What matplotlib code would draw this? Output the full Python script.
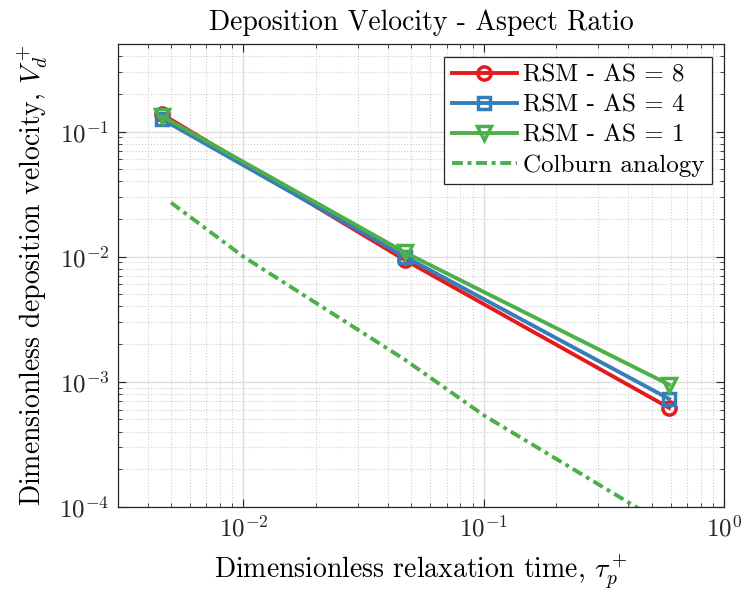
import matplotlib
matplotlib.use("Agg")
import matplotlib.pyplot as plt

# relaxation time tau_p+ for the three RSM runs
tau_p = [0.0046, 0.047, 0.59]
vd_as8 = [0.137, 0.0094, 0.00062]
vd_as4 = [0.125, 0.0100, 0.00073]
vd_as1 = [0.132, 0.0108, 0.00095]

# Colburn analogy curve
tau_colburn = [0.005, 0.01, 0.047, 0.1, 0.6]
vd_colburn = [0.027, 0.0100, 0.00150, 0.00054, 0.000068]

labels = ["RSM - AS = 8", "RSM - AS = 4", "RSM - AS = 1", "Colburn analogy"]
colors = ["#e41a1c", "#377eb8", "#4daf4a"]

plt.rcParams["font.family"] = "cmr10"
plt.rcParams["mathtext.fontset"] = "cm"
plt.rcParams["axes.formatter.use_mathtext"] = True

fig = plt.figure(figsize=(7.45, 5.95), dpi=100)
ax = fig.add_axes([0.158, 0.148, 0.814, 0.778])

ax.plot(tau_p, vd_as8, "-o", color=colors[0], lw=2.8, ms=9.5, mew=2.5,
        mfc="none", label=labels[0])
ax.plot(tau_p, vd_as4, "-s", color=colors[1], lw=2.8, ms=8.5, mew=2.5,
        mfc="none", label=labels[1])
ax.plot(tau_p, vd_as1, "-v", color=colors[2], lw=2.8, ms=10.5, mew=2.5,
        mfc="none", label=labels[2])
ax.plot(tau_colburn, vd_colburn, color=colors[2], lw=2.8,
        dashes=(2.8, 1.2, 1.0, 1.2), label=labels[3])

ax.set_xscale("log")
ax.set_yscale("log")
ax.set_xlim(0.003, 1)
ax.set_ylim(1e-4, 0.5)

ax.grid(True, which="major", color="#dddddd", lw=1.0, ls="-")
ax.grid(True, which="minor", color="#cfcfcf", lw=0.8, ls=":")
ax.set_axisbelow(True)

ax.tick_params(which="both", direction="in", top=True, right=True,
               colors="#262626", labelsize=18)
ax.tick_params(which="major", length=6, width=0.8, pad=6)
ax.tick_params(which="minor", length=3, width=0.6)
for sp in ax.spines.values():
    sp.set_color("#262626")
    sp.set_linewidth(0.9)

ax.set_xlabel(r"Dimensionless relaxation time, $\tau_p^+$", fontsize=20, labelpad=8)
ax.set_ylabel(r"Dimensionless deposition velocity, $V_d^+$", fontsize=20, labelpad=7)
ax.set_title("Deposition Velocity - Aspect Ratio", fontsize=20, pad=10)

leg = ax.legend(loc="upper right", fontsize=18, handlelength=2.6,
                fancybox=False, edgecolor="#262626", framealpha=1,
                borderpad=0.3, labelspacing=0.3, handletextpad=0.25,
                borderaxespad=0.5)
leg.get_frame().set_linewidth(0.9)

fig.savefig("out.png", dpi=100)
